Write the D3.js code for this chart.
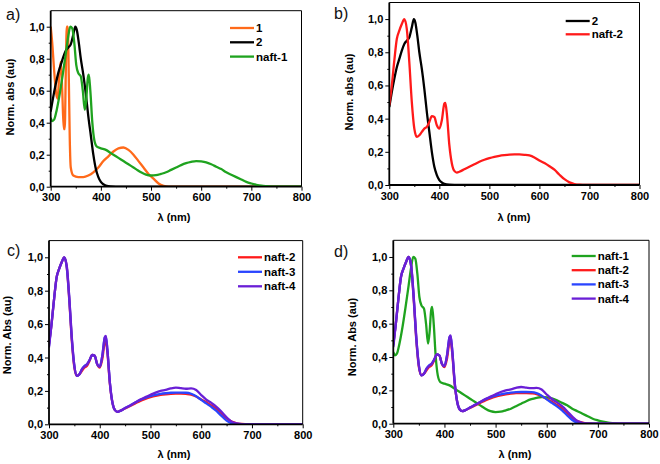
<!DOCTYPE html>
<html>
<head>
<meta charset="utf-8">
<script src="https://cdn.jsdelivr.net/npm/d3@7"></script>
<style>
  body { margin: 0; background: #fff; }
  svg { font-family: "Liberation Sans", Arial, sans-serif; }
</style>
</head>
<body>
<svg id="chart" width="660" height="464"></svg>
<script>
// ---- data ----
const xTicks = [300, 400, 500, 600, 700, 800];
const xMinor = [350, 450, 550, 650, 750];
const yTicks = [0, 0.2, 0.4, 0.6, 0.8, 1.0];
const yMinor = [0.1, 0.3, 0.5, 0.7, 0.9];

const nm_1 = [300,303,307,311,314,317,320,323,326,328,330,332,334,336,338,340,345,355,365,375,385,395,405,415,425,435,445,455,465,475,485,495,505,515,525,535,800];
const abs_1 = [1.0,0.9,0.72,0.58,0.55,0.7,0.78,0.6,0.36,0.36,0.7,1.0,1.0,0.7,0.3,0.12,0.07,0.06,0.06,0.07,0.09,0.12,0.16,0.19,0.22,0.24,0.245,0.23,0.2,0.16,0.12,0.08,0.05,0.02,0.005,0,0];

const nm_2 = [300,305,310,315,320,325,330,335,340,345,349,352,356,360,365,370,375,380,385,390,395,400,405,410,420,440,800];
const abs_2 = [0.47,0.56,0.64,0.71,0.76,0.81,0.85,0.87,0.89,0.95,1.0,0.98,0.9,0.8,0.7,0.58,0.44,0.32,0.2,0.11,0.06,0.03,0.015,0.007,0.002,0,0];

const nm_naft1 = [300,303,307,312,318,324,330,335,339,343,347,351,355,360,364,368,371,374,376,379,383,387,392,400,410,420,430,440,450,460,470,480,490,500,510,520,530,540,550,560,570,580,590,600,610,620,630,640,650,660,670,680,690,700,710,720,730,740,760,800];
const abs_naft1 = [0.43,0.41,0.42,0.48,0.58,0.7,0.83,0.94,1.0,0.99,0.9,0.76,0.71,0.69,0.6,0.48,0.55,0.68,0.7,0.6,0.4,0.29,0.25,0.24,0.23,0.21,0.19,0.17,0.15,0.13,0.11,0.09,0.075,0.07,0.072,0.08,0.09,0.105,0.12,0.135,0.147,0.155,0.16,0.158,0.152,0.14,0.125,0.11,0.09,0.075,0.06,0.045,0.03,0.02,0.012,0.006,0.003,0.001,0,0];

const nm_naft = [300,305,310,315,320,325,330,335,340,345,350,355,360,365,370,375,380,385,390,395,400,405,410,412,415,420,425,430,435,440,450,460,470,480,490,500,510,520,530,540,550,560,570,580,590,600,610,620,630,640,650,660,670,680,690,700,800];
const abs_naft2 = [0.48,0.6,0.75,0.88,0.93,0.97,1.0,0.94,0.74,0.5,0.34,0.29,0.3,0.32,0.34,0.35,0.38,0.415,0.41,0.36,0.34,0.39,0.49,0.495,0.43,0.24,0.13,0.085,0.075,0.08,0.095,0.11,0.125,0.14,0.152,0.162,0.17,0.176,0.18,0.183,0.184,0.184,0.182,0.178,0.166,0.148,0.132,0.113,0.092,0.062,0.035,0.016,0.006,0.002,0.001,0,0];
const abs_naft3 = [0.47,0.6,0.75,0.88,0.93,0.97,1.0,0.94,0.75,0.51,0.35,0.29,0.3,0.33,0.35,0.36,0.385,0.415,0.41,0.36,0.345,0.41,0.52,0.525,0.45,0.25,0.13,0.085,0.075,0.08,0.097,0.113,0.13,0.146,0.158,0.168,0.176,0.182,0.186,0.189,0.19,0.19,0.189,0.183,0.168,0.146,0.125,0.104,0.08,0.05,0.022,0.006,0.001,0,0,0,0];
const abs_naft4 = [0.46,0.6,0.75,0.88,0.93,0.97,1.0,0.95,0.76,0.52,0.35,0.29,0.3,0.33,0.345,0.36,0.385,0.415,0.41,0.36,0.345,0.41,0.52,0.53,0.45,0.25,0.13,0.085,0.075,0.08,0.097,0.113,0.13,0.148,0.163,0.177,0.19,0.2,0.206,0.215,0.22,0.216,0.213,0.215,0.205,0.175,0.148,0.128,0.105,0.075,0.042,0.016,0.005,0.001,0,0,0];

const COL = {
  "1": "#ff6a1a", "2": "#000000", "naft-1": "#1fa31f",
  "naft-2": "#ff1a1a", "naft-3": "#2a45ff", "naft-4": "#6a1fd6"
};

function series(name, xs, ys) {
  return { name: name, pts: xs.map((x, i) => [x, ys[i]]) };
}

const panels = [
  { label: "a)", lx: 6, ly: 20, left: 50.7, right: 301.5, top: 10.7, bottom: 186.7,
    yTitle: "Norm. abs (au)", ytx: 14, yty: 97, xtx: 174, xty: 221,
    legend: { x: 230, y: 28, dy: 14.3 },
    series: [series("1", nm_1, abs_1), series("2", nm_2, abs_2), series("naft-1", nm_naft1, abs_naft1)] },
  { label: "b)", lx: 334, ly: 19, left: 389.3, right: 639.5, top: 2.5, bottom: 185,
    yTitle: "Norm. abs (au)", ytx: 353, yty: 92, xtx: 514, xty: 221,
    legend: { x: 565.7, y: 21, dy: 13.3 },
    series: [series("2", nm_2, abs_2), series("naft-2", nm_naft, abs_naft2)] },
  { label: "c)", lx: 7, ly: 256, left: 49, right: 302.7, top: 240.6, bottom: 424.3,
    yTitle: "Norm. Abs (au)", ytx: 11, yty: 335, xtx: 174, xty: 458,
    legend: { x: 238, y: 257.3, dy: 14.5 },
    series: [series("naft-2", nm_naft, abs_naft2), series("naft-3", nm_naft, abs_naft3), series("naft-4", nm_naft, abs_naft4)] },
  { label: "d)", lx: 334, ly: 257, left: 393.3, right: 649, top: 240.3, bottom: 423.7,
    yTitle: "Norm. Abs (au)", ytx: 356, yty: 337, xtx: 515, xty: 458,
    legend: { x: 571.7, y: 256, dy: 14.2 },
    series: [series("naft-1", nm_naft1, abs_naft1), series("naft-2", nm_naft, abs_naft2), series("naft-3", nm_naft, abs_naft3), series("naft-4", nm_naft, abs_naft4)] }
];

const svg = d3.select("#chart");
const fmtY = d => d.toFixed(1).replace(".", ",");

panels.forEach(p => {
  const x = d3.scaleLinear().domain([300, 800]).range([p.left, p.right]);
  const y = d3.scaleLinear().domain([0, 1.1]).range([p.bottom, p.top]);
  const g = svg.append("g");

  // curves
  const line = d3.line().x(d => x(d[0])).y(d => y(d[1])).curve(d3.curveMonotoneX);
  g.append("clipPath").attr("id", "clip" + p.label[0])
    .append("rect").attr("x", p.left).attr("y", p.top)
    .attr("width", p.right - p.left).attr("height", p.bottom - p.top);
  const cg = g.append("g").attr("clip-path", `url(#clip${p.label[0]})`);
  p.series.forEach(s => {
    cg.append("path").datum(s.pts)
      .attr("d", line)
      .attr("fill", "none")
      .attr("stroke", COL[s.name])
      .attr("stroke-width", 2.3)
      .attr("stroke-linejoin", "round");
  });

  // axes
  const styleAxis = sel => {
    sel.select(".domain").remove();
    sel.selectAll("line").attr("stroke", "#000").attr("stroke-width", 1);
    sel.selectAll("text").attr("fill", "#000").style("font-size", "11px").style("font-weight", "bold");
  };
  g.append("g").attr("transform", `translate(0,${p.bottom})`)
    .call(d3.axisBottom(x).tickValues(xTicks).tickSize(4).tickPadding(3).tickFormat(d3.format("d")))
    .call(styleAxis);
  g.append("g").attr("transform", `translate(0,${p.bottom})`)
    .call(d3.axisBottom(x).tickValues(xMinor).tickSize(2).tickFormat(""))
    .call(styleAxis);
  g.append("g").attr("transform", `translate(${p.left},0)`)
    .call(d3.axisLeft(y).tickValues(yTicks).tickSize(4).tickPadding(2).tickFormat(fmtY))
    .call(styleAxis);
  g.append("g").attr("transform", `translate(${p.left},0)`)
    .call(d3.axisLeft(y).tickValues(yMinor).tickSize(2).tickFormat(""))
    .call(styleAxis);

  // frame
  g.append("line").attr("x1", p.left).attr("x2", p.right).attr("y1", p.top).attr("y2", p.top)
    .attr("stroke", "#000").attr("stroke-width", 1);
  g.append("line").attr("x1", p.right).attr("x2", p.right).attr("y1", p.top).attr("y2", p.bottom)
    .attr("stroke", "#000").attr("stroke-width", 1);
  g.append("line").attr("x1", p.left).attr("x2", p.left).attr("y1", p.top).attr("y2", p.bottom)
    .attr("stroke", "#000").attr("stroke-width", 1.8);
  g.append("line").attr("x1", p.left).attr("x2", p.right).attr("y1", p.bottom).attr("y2", p.bottom)
    .attr("stroke", "#000").attr("stroke-width", 1.8);

  // titles
  g.append("text").attr("x", p.lx).attr("y", p.ly).text(p.label)
    .style("font-size", "16px").attr("fill", "#111");
  g.append("text").attr("transform", `translate(${p.ytx},${p.yty}) rotate(-90)`)
    .attr("text-anchor", "middle").text(p.yTitle)
    .style("font-size", "11px").style("font-weight", "bold");
  g.append("text").attr("x", p.xtx).attr("y", p.xty)
    .attr("text-anchor", "middle").text("λ (nm)")
    .style("font-size", "11px").style("font-weight", "bold");

  // legend
  const lg = g.append("g");
  p.series.forEach((s, i) => {
    const ly = p.legend.y + i * p.legend.dy;
    lg.append("line").attr("x1", p.legend.x).attr("x2", p.legend.x + 24)
      .attr("y1", ly).attr("y2", ly)
      .attr("stroke", COL[s.name]).attr("stroke-width", 2.3);
    lg.append("text").attr("x", p.legend.x + 26).attr("y", ly + 4)
      .text(s.name).style("font-size", "11.5px").style("font-weight", "bold");
  });
});
</script>
</body>
</html>
